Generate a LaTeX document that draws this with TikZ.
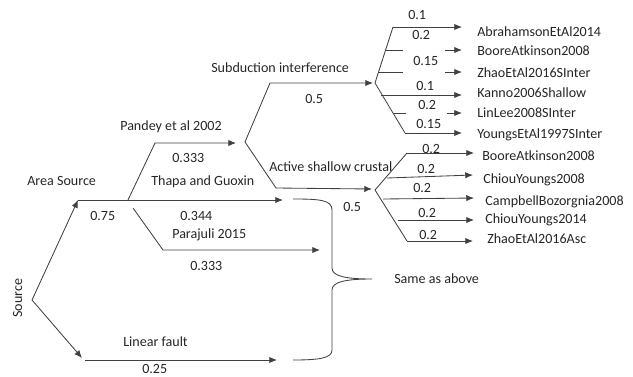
\documentclass[tikz,border=0pt]{standalone}
\usepackage{fontspec}
\setmainfont{Carlito}
\usetikzlibrary{arrows.meta}

\begin{document}
\begin{tikzpicture}[x=0.025cm,y=-0.025cm]
	\tikzstyle{lbl}=[anchor=west,inner sep=0pt,text=black!85,text height=6.4pt,text depth=0.6pt,font=\fontsize{10}{12}\selectfont]
	\tikzstyle{ln}=[draw=black!75,line width=0.6pt]
	\tikzstyle{arr}=[ln,-{Latex[length=5.5pt,width=4.5pt]}]
	\useasboundingbox (0,0) rectangle (633,376);
	\coordinate (s0) at (32,300);
	\coordinate (a1) at (78,200);
	\coordinate (l1) at (82,358);
	\coordinate (b1) at (128,200);
	\coordinate (t1) at (283,200);
	\coordinate (p0) at (155,143);
	\coordinate (p1) at (236,143);
	\coordinate (q0) at (133,208);
	\coordinate (q1) at (163,250);
	\coordinate (q2) at (320,250);
	\coordinate (l2) at (85,360);
	\coordinate (l3) at (277,360);
	\node[lbl,rotate=90,anchor=center](src) at (18,298) {Source};
	\node[lbl](area) at (27,181) {Area Source};
	\node[lbl](w1) at (90,216) {0.75};
	\node[lbl](pan) at (120,126) {Pandey et al 2002};
	\node[lbl](w2) at (172,158) {0.333};
	\node[lbl](tha) at (151,181) {Thapa and Guoxin};
	\node[lbl](w3) at (180,216) {0.344};
	\node[lbl](par) at (172,234) {Parajuli 2015};
	\node[lbl](w4) at (190,266) {0.333};
	\node[lbl](lin) at (123,342) {Linear fault};
	\node[lbl](w5) at (142,369) {0.25};
	\draw[arr](s0) -- (a1);
	\draw[arr](s0) -- (l1);
	\draw[arr](a1) -- (t1);
	\draw[arr](b1) -- (p0) -- (p1);
	\draw[arr](q0) -- (q1) -- (q2);
	\draw[arr](l2) -- (l3);
	% tectonic regime
	\coordinate (f1) at (245,142);
	\coordinate (f2) at (270,83);
	\coordinate (f3) at (373,83);
	\coordinate (f4) at (276,188);
	\coordinate (f5) at (372,189);
	\node[lbl](sub) at (211,68) {Subduction interference};
	\node[lbl](w6) at (305,99) {0.5};
	\node[lbl](asc) at (269,167) {Active shallow crustal};
	\node[lbl](w7) at (343,207) {0.5};
	\draw[arr](f1) -- (f2) -- (f3);
	\draw[arr](f1) -- (f4) -- (f5);
	% subduction models
	\coordinate (g0) at (375,83);
	\coordinate (g1) at (393,27);
	\coordinate (g6) at (405,133);
	\draw[ln](g1) -- (g0) -- (g6);
	\node[lbl](m1) at (477,32) {AbrahamsonEtAl2014};
	\node[lbl](m2) at (477,51) {BooreAtkinson2008};
	\node[lbl](m3) at (477,73) {ZhaoEtAl2016SInter};
	\node[lbl](m4) at (477,93) {Kanno2006Shallow};
	\node[lbl](m5) at (477,113) {LinLee2008SInter};
	\node[lbl](m6) at (477,134) {YoungsEtAl1997SInter};
	\node[lbl](u1) at (408,15) {0.1};
	\node[lbl](u2) at (412,35) {0.2};
	\node[lbl](u3) at (413,61) {0.15};
	\node[lbl](u4) at (416,86) {0.1};
	\node[lbl](u5) at (418,105) {0.2};
	\node[lbl](u6) at (416,124) {0.15};
	\coordinate (e1) at (462,27);
	\coordinate (g2) at (385,50);
	\coordinate (h2) at (403,50);
	\coordinate (k2) at (445,50);
	\coordinate (e2) at (462,50);
	\coordinate (g3) at (378,72);
	\coordinate (h3) at (403,72);
	\coordinate (k3) at (445,72);
	\coordinate (e3) at (462,72);
	\coordinate (g4) at (381,95);
	\coordinate (e4) at (462,95);
	\coordinate (g5) at (393,113);
	\coordinate (h5) at (406,113);
	\coordinate (k5) at (447,113);
	\coordinate (e5) at (462,113);
	\coordinate (e6) at (462,133);
	\draw[arr](g1) -- (e1);
	\draw[ln](g2) -- (h2);
	\draw[arr](k2) -- (e2);
	\draw[ln](g3) -- (h3);
	\draw[arr](k3) -- (e3);
	\draw[arr](g4) -- (e4);
	\draw[ln](g5) -- (h5);
	\draw[arr](k5) -- (e5);
	\draw[arr](g6) -- (e6);
	% active shallow crustal models
	\coordinate (c0) at (375,190);
	\coordinate (c1) at (407,153);
	\coordinate (c5) at (407,241);
	\draw[ln](c1) -- (c0) -- (c5);
	\node[lbl](n1) at (482,156) {BooreAtkinson2008};
	\node[lbl](n2) at (483,179) {ChiouYoungs2008};
	\node[lbl](n3) at (485,201) {CampbellBozorgnia2008};
	\node[lbl](n4) at (485,219) {ChiouYoungs2014};
	\node[lbl](n5) at (487,239) {ZhaoEtAl2016Asc};
	\node[lbl](v1) at (422,149) {0.2};
	\node[lbl](v2) at (417,169) {0.2};
	\node[lbl](v3) at (413,188) {0.2};
	\node[lbl](v4) at (418,213) {0.2};
	\node[lbl](v5) at (419,235) {0.2};
	\coordinate (d1) at (474,153);
	\coordinate (c2) at (387,178);
	\coordinate (d2) at (473,175);
	\coordinate (c3) at (383,199);
	\coordinate (d3) at (474,198);
	\coordinate (c4) at (398,220);
	\coordinate (d4) at (474,220);
	\coordinate (d5) at (473,241);
	\draw[arr](c1) -- (d1);
	\draw[arr](c2) -- (d2);
	\draw[arr](c3) -- (d3);
	\draw[arr](c4) -- (d4);
	\draw[arr](c5) -- (d5);
	% brace
	\coordinate (r0) at (293,199);
	\coordinate (r1) at (372,279);
	\coordinate (r2) at (293,360);
	\node[lbl](same) at (394,279) {Same as above};
	\draw[ln](r0) .. controls (320,199) and (332,200) .. (332,210) -- (332,268) .. controls (332,276) and (345,279) .. (r1) .. controls (345,279) and (332,282) .. (332,290) -- (332,350) .. controls (332,358) and (320,360) .. (r2);
\end{tikzpicture}
\end{document}
